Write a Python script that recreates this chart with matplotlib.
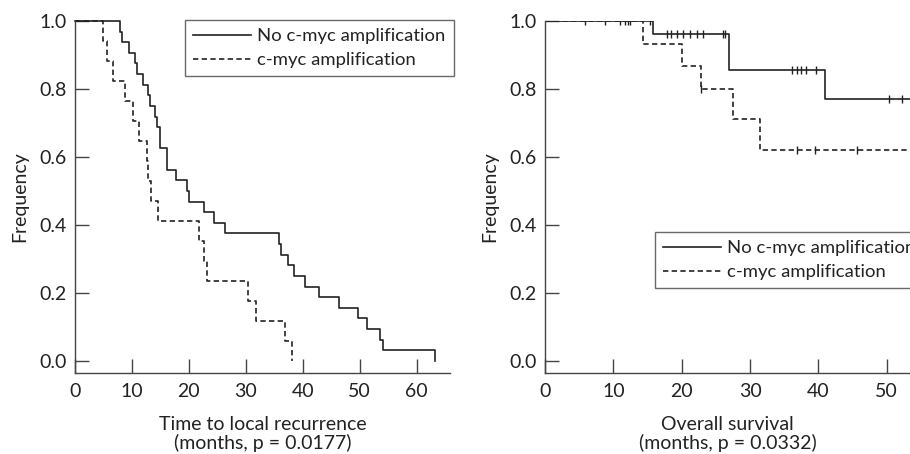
import matplotlib
matplotlib.use("Agg")
import matplotlib.pyplot as plt

# ---------------- data ----------------
# Left panel: time to local recurrence
left_no_t = [0, 7.9, 8.2, 9.4, 10.5, 10.8, 12.0, 12.9, 13.2, 14.1, 14.4, 15.0, 16.1, 17.8,
             19.7, 20.0, 22.7, 24.4, 26.4, 35.9, 36.2, 37.4, 38.4, 40.4, 42.8, 46.3, 49.7,
             51.3, 53.5, 54.1, 63.3]
left_no_s = [1.0, 0.969, 0.938, 0.906, 0.875, 0.844, 0.812, 0.781, 0.750, 0.719, 0.688, 0.625,
             0.562, 0.531, 0.500, 0.469, 0.438, 0.406, 0.375, 0.344, 0.312, 0.281, 0.250,
             0.219, 0.188, 0.156, 0.125, 0.094, 0.062, 0.031, 0.0]
left_amp_t = [0, 5.0, 5.7, 6.7, 8.7, 10.2, 11.3, 12.6, 12.9, 13.3, 14.5, 21.8, 22.7, 23.1,
              30.3, 31.8, 36.9, 38.1]
left_amp_s = [1.0, 0.941, 0.882, 0.824, 0.765, 0.706, 0.647, 0.588, 0.529, 0.471, 0.412,
              0.353, 0.294, 0.235, 0.176, 0.118, 0.059, 0.0]

# Right panel: overall survival
right_no_t = [0, 15.8, 26.9, 41.0, 53.4]
right_no_s = [1.0, 0.963, 0.857, 0.771, 0.771]
right_no_cens_t = [5.9, 8.8, 10.9, 11.7, 12.1, 12.5, 15.3,
                   17.8, 18.5, 19.3, 20.2, 21.2, 22.2, 23.1, 26.0, 26.4,
                   36.2, 36.8, 37.4, 38.2, 39.6, 50.3, 52.3]
right_no_cens_s = [1.0, 1.0, 1.0, 1.0, 1.0, 1.0, 1.0,
                   0.963, 0.963, 0.963, 0.963, 0.963, 0.963, 0.963, 0.963, 0.963,
                   0.857, 0.857, 0.857, 0.857, 0.857, 0.771, 0.771]
right_amp_t = [0, 14.3, 20.0, 22.8, 27.5, 31.5, 53.4]
right_amp_s = [1.0, 0.933, 0.867, 0.8, 0.711, 0.622, 0.622]
right_amp_cens_t = [22.8, 36.9, 39.5, 45.7]
right_amp_cens_s = [0.8, 0.622, 0.622, 0.622]

legend_labels = ["No c-myc amplification", "c-myc amplification"]
yticks = [0.0, 0.2, 0.4, 0.6, 0.8, 1.0]
left_xticks = [0, 10, 20, 30, 40, 50, 60]
right_xticks = [0, 10, 20, 30, 40, 50]

# ---------------- style ----------------
FONT = ["Lato", "DejaVu Sans"]
plt.rcParams["font.family"] = FONT
FS = 14
LFS = 13.3
DARK = "#222222"
AX = "#444444"
DASH = (0, (3.2, 2.0))

fig = plt.figure(figsize=(9.10, 4.54), dpi=100)
W, H = 910, 454

def px_axes(x0, x1, ytop, ybot):
    return fig.add_axes([x0 / W, 1 - ybot / H, (x1 - x0) / W, (ybot - ytop) / H])

axL = px_axes(75, 450, 21, 373)
axR = px_axes(545, 910, 21, 373)

def style(ax, xmax, xticks, xlabel):
    ax.set_xlim(0, xmax)
    ax.set_ylim(-0.0353, 1.0)
    for s in ("top", "right"):
        ax.spines[s].set_visible(False)
    for s in ("left", "bottom"):
        ax.spines[s].set_color(AX)
        ax.spines[s].set_linewidth(1.0)
    ax.set_xticks(xticks)
    ax.set_yticks(yticks)
    ax.set_yticklabels([f"{v:.1f}" for v in yticks])
    ax.tick_params(axis="both", direction="in", length=10, width=1.0, color=AX,
                   labelsize=FS, labelcolor=DARK)
    ax.tick_params(axis="x", pad=7)
    ax.tick_params(axis="y", pad=6)
    ax.set_ylabel("Frequency", fontsize=FS, color=DARK, labelpad=8)
    ax.set_xlabel(xlabel, fontsize=FS, color=DARK, labelpad=12, linespacing=1.05)

def add_legend(ax, x0, y0):
    leg = ax.legend(loc="upper left", bbox_to_anchor=(x0 / W, 1 - y0 / H),
                    bbox_transform=fig.transFigure, frameon=True, fancybox=False,
                    fontsize=LFS, handlelength=3.1, handletextpad=0.35,
                    borderpad=0.45, labelspacing=0.42, borderaxespad=0)
    leg.get_frame().set_edgecolor(AX)
    leg.get_frame().set_linewidth(1.0)
    for t in leg.get_texts():
        t.set_color(DARK)
    return leg

# Left
axL.step(left_no_t, left_no_s, where="post", color=DARK, lw=1.2, label=legend_labels[0],
         clip_on=False)
axL.step(left_amp_t, left_amp_s, where="post", color=DARK, lw=1.2, ls=DASH,
         label=legend_labels[1], clip_on=False)
style(axL, 65.85, left_xticks, "Time to local recurrence\n(months, p = 0.0177)")
add_legend(axL, 185, 20)

# Right
axR.step(right_no_t, right_no_s, where="post", color=DARK, lw=1.2, label=legend_labels[0])
axR.step(right_amp_t, right_amp_s, where="post", color=DARK, lw=1.2, ls=DASH,
         label=legend_labels[1])
axR.plot(right_no_cens_t, right_no_cens_s, ls="none", marker="|", ms=6, mew=1.0, color=DARK)
axR.plot(right_amp_cens_t, right_amp_cens_s, ls="none", marker="|", ms=6, mew=1.0, color=DARK)
style(axR, 53.4, right_xticks, "Overall survival\n(months, p = 0.0332)")
add_legend(axR, 655, 232)

fig.savefig("out.png", dpi=100)
